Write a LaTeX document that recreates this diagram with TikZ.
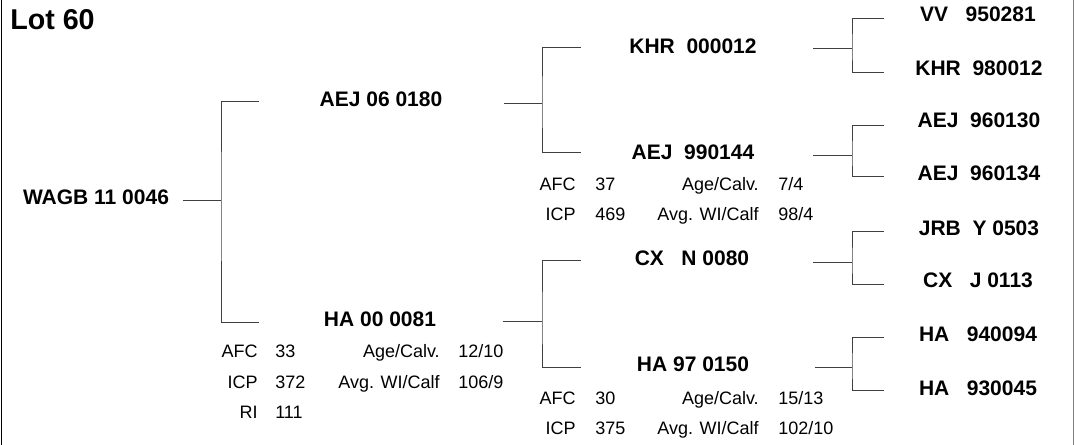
\documentclass[tikz,border=0pt]{standalone}
\usepackage{fontspec}
\setmainfont{Liberation Sans}

\begin{document}
\begin{tikzpicture}[x=0.75pt, y=-0.75pt,
        animal/.style={font=\bfseries\fontsize{15.75}{18}\selectfont, anchor=base, inner sep=0},
        lbl/.style={font=\fontsize{13.5}{16}\selectfont, anchor=base east, inner sep=0},
        val/.style={font=\fontsize{13.5}{16}\selectfont, anchor=base west, inner sep=0},
        link/.style={draw=black!75, line width=0.75pt}]
        \useasboundingbox (0,0) rectangle (1075,445);
        \draw[black, line width=1pt] (1.5,0) -- (1.5,445);
        \draw[black!50, line width=1.2pt] (1073.5,0) -- (1073.5,445);

        \node[font=\bfseries\fontsize{21.5}{24}\selectfont, anchor=base west, inner sep=0] (title) at (10,30) {Lot 60};

        % animals
        \node[animal] (root) at (96,205) {WAGB 11 0046};
        \node[animal] (s) at (381,107) {AEJ 06 0180};
        \node[animal] (d) at (380,327) {HA 00 0081};
        \node[animal] (ss) at (693,54) {KHR~~000012};
        \node[animal] (sd) at (693,160) {AEJ~~990144};
        \node[animal] (ds) at (692,266) {CX~~~N 0080};
        \node[animal] (dd) at (693,372) {HA 97 0150};
        \node[animal] (sss) at (978,22) {VV~~~950281};
        \node[animal] (ssd) at (979,76) {KHR~~980012};
        \node[animal] (sds) at (979,128) {AEJ~~960130};
        \node[animal] (sdd) at (979,181) {AEJ~~960134};
        \node[animal] (dss) at (979,236) {JRB~~Y 0503};
        \node[animal] (dsd) at (978,288) {CX~~~J 0113};
        \node[animal] (dds) at (978,342) {HA~~~940094};
        \node[animal] (ddd) at (978,395) {HA~~~930045};

        % figures
        \node[lbl] (d-afc) at (258,358) {AFC};
        \node[val] (d-afcv) at (275,358) {33};
        \node[lbl] (d-icp) at (258,388) {ICP};
        \node[val] (d-icpv) at (275,388) {372};
        \node[lbl] (d-ri) at (258,418) {RI};
        \node[val] (d-riv) at (275,418) {111};
        \node[lbl] (d-age) at (440,358) {Age/Calv.};
        \node[val] (d-agev) at (458,358) {12/10};
        \node[lbl] (d-wi) at (440,388) {Avg. WI/Calf};
        \node[val] (d-wiv) at (458,388) {106/9};

        \node[lbl] (sd-afc) at (576,191) {AFC};
        \node[val] (sd-afcv) at (595,191) {37};
        \node[lbl] (sd-icp) at (576,221) {ICP};
        \node[val] (sd-icpv) at (595,221) {469};
        \node[lbl] (sd-age) at (759,191) {Age/Calv.};
        \node[val] (sd-agev) at (778,191) {7/4};
        \node[lbl] (sd-wi) at (759,221) {Avg. WI/Calf};
        \node[val] (sd-wiv) at (778,221) {98/4};

        \node[lbl] (dd-afc) at (576,404) {AFC};
        \node[val] (dd-afcv) at (595,404) {30};
        \node[lbl] (dd-icp) at (576,434) {ICP};
        \node[val] (dd-icpv) at (595,434) {375};
        \node[lbl] (dd-age) at (759,404) {Age/Calv.};
        \node[val] (dd-agev) at (778,404) {15/13};
        \node[lbl] (dd-wi) at (759,434) {Avg. WI/Calf};
        \node[val] (dd-wiv) at (778,434) {102/10};

        % brackets
        \coordinate (root-o) at (183,201);
        \coordinate (root-f) at (221,201);
        \coordinate (root-u) at (259,102);
        \coordinate (root-d) at (259,323);
        \draw[link] (root-o) -- (root-f) (root-u) -| (root-f) |- (root-d);

        \coordinate (s-o) at (504,104);
        \coordinate (s-f) at (542,104);
        \coordinate (s-u) at (581,48);
        \coordinate (s-d) at (581,153);
        \draw[link] (s-o) -- (s-f) (s-u) -| (s-f) |- (s-d);

        \coordinate (d-o) at (503,322);
        \coordinate (d-f) at (542,322);
        \coordinate (d-u) at (581,261);
        \coordinate (d-d) at (581,368);
        \draw[link] (d-o) -- (d-f) (d-u) -| (d-f) |- (d-d);

        \coordinate (ss-o) at (813,49);
        \coordinate (ss-f) at (852,49);
        \coordinate (ss-u) at (884,19);
        \coordinate (ss-d) at (884,73);
        \draw[link] (ss-o) -- (ss-f) (ss-u) -| (ss-f) |- (ss-d);

        \coordinate (sd-o) at (813,156);
        \coordinate (sd-f) at (852,156);
        \coordinate (sd-u) at (884,126);
        \coordinate (sd-d) at (884,177);
        \draw[link] (sd-o) -- (sd-f) (sd-u) -| (sd-f) |- (sd-d);

        \coordinate (ds-o) at (813,263);
        \coordinate (ds-f) at (852,263);
        \coordinate (ds-u) at (884,232);
        \coordinate (ds-d) at (884,285);
        \draw[link] (ds-o) -- (ds-f) (ds-u) -| (ds-f) |- (ds-d);

        \coordinate (dd-o) at (815,368);
        \coordinate (dd-f) at (852,368);
        \coordinate (dd-u) at (884,338);
        \coordinate (dd-d) at (884,391);
        \draw[link] (dd-o) -- (dd-f) (dd-u) -| (dd-f) |- (dd-d);
    \end{tikzpicture}
\end{document}
